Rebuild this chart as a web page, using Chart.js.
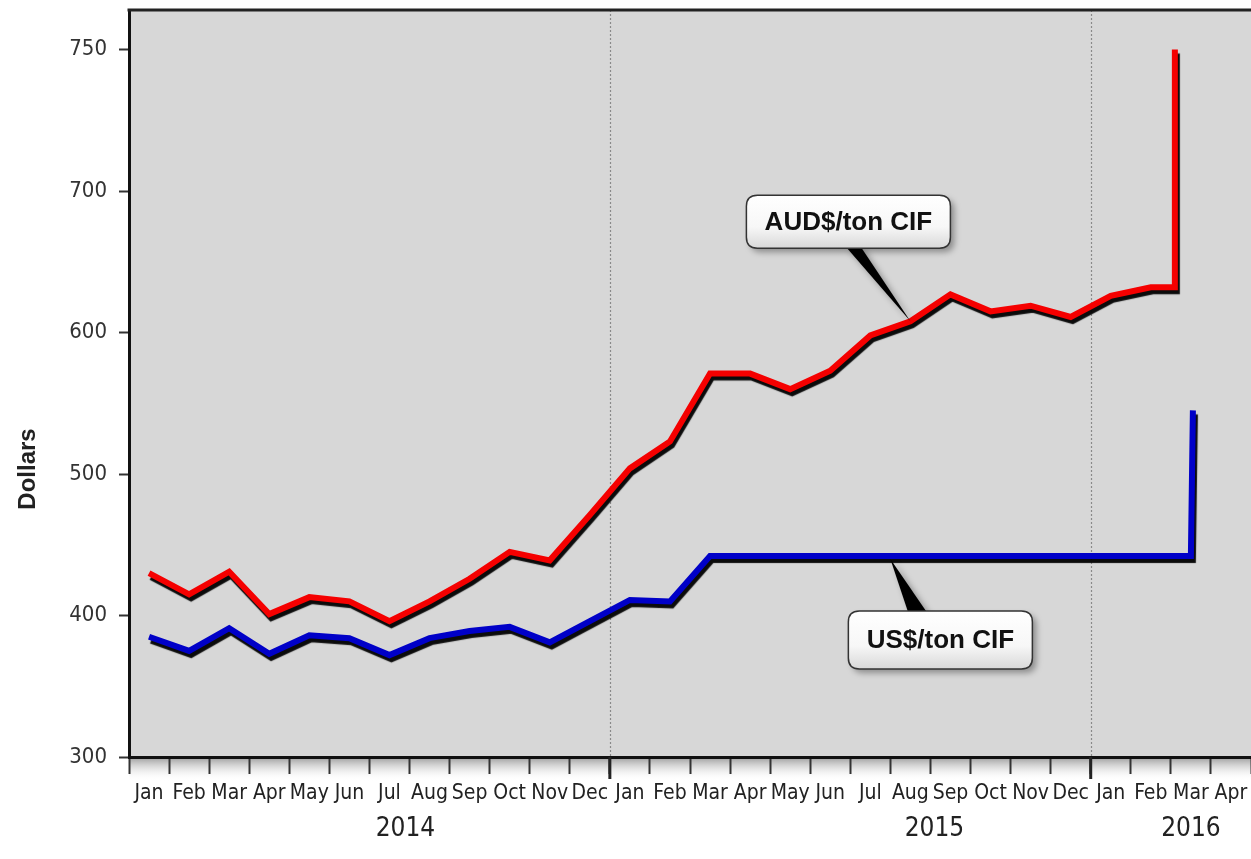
<!DOCTYPE html>
<html>
<head>
<meta charset="utf-8">
<script src="https://cdn.jsdelivr.net/npm/chart.js@4.4.0/dist/chart.umd.min.js"></script>
<style>
  html, body { margin: 0; padding: 0; background: #fff; }
  #wrap { width: 1251px; height: 859px; }
</style>
</head>
<body>
<div id="wrap"><canvas id="priceChart"></canvas></div>
<script>
// Monthly prices, Jan 2014 .. Apr 2016
const months = ['Jan','Feb','Mar','Apr','May','Jun','Jul','Aug','Sep','Oct','Nov','Dec',
                'Jan','Feb','Mar','Apr','May','Jun','Jul','Aug','Sep','Oct','Nov','Dec',
                'Jan','Feb','Mar','Apr'];
const years = ['2014', '2015', '2016'];

// AUD$/ton CIF, Jan 2014 .. Feb 2016
const audPerTon = [430, 415, 431, 401, 413, 410, 396, 410, 426, 445, 439, 471,
                   504, 523, 571, 571, 560, 573, 598, 608, 627, 615, 619, 611,
                   626, 632];
// last jump, at the start of Mar 2016 (top is shown against the "750" tick)
const audJump = [632, 800];

// US$/ton CIF, Jan 2014 .. Mar 2016
const usPerTon = [385, 375, 391, 373, 386, 384, 372, 384, 389, 392, 381, 396,
                  411, 410, 442, 442, 442, 442, 442, 442, 442, 442, 442, 442,
                  442, 442, 442];
const usJump = 545;

const yTickValues = [300, 400, 500, 600, 700, 800];
const yTickLabels = ['300', '400', '500', '600', '700', '750'];

const narrow = "'Liberation Sans Narrow', 'DejaVu Sans Condensed', 'Roboto Condensed', sans-serif";
const bold = "'Liberation Sans', Arial, sans-serif";

const audPoints = audPerTon.map((v, i) => ({ x: i + 0.5, y: v }))
  .concat([{ x: audPerTon.length + 0.1, y: audJump[0] }, { x: audPerTon.length + 0.1, y: audJump[1] }]);
const usPoints = usPerTon.map((v, i) => ({ x: i + 0.5, y: v }))
  .concat([{ x: usPerTon.length - 0.45, y: usJump }]);

// black drop shadow under the two price lines
const lineShadow = {
  id: 'lineShadow',
  beforeDatasetDraw(chart) {
    const c = chart.ctx;
    c.save();
    c.shadowColor = 'rgba(0,0,0,0.95)';
    c.shadowOffsetX = 2;
    c.shadowOffsetY = 4;
    c.shadowBlur = 1;
  },
  afterDatasetDraw(chart) {
    chart.ctx.restore();
  }
};

// grey plot area, shading under the axis, dashed year separators, texts
const frame = {
  id: 'frame',
  beforeDraw(chart) {
    const { ctx, chartArea: a } = chart;
    ctx.save();
    ctx.fillStyle = '#fff';
    ctx.fillRect(0, 0, chart.width, chart.height);
    ctx.fillStyle = '#d7d7d7';
    ctx.fillRect(a.left, a.top, a.right - a.left, a.bottom - a.top);
    const g = ctx.createLinearGradient(0, a.bottom, 0, a.bottom + 24);
    g.addColorStop(0, 'rgba(120,120,120,0.75)');
    g.addColorStop(1, 'rgba(255,255,255,0)');
    ctx.fillStyle = g;
    ctx.fillRect(a.left, a.bottom, a.right - a.left, 24);
    ctx.restore();
  },
  beforeDatasetsDraw(chart) {
    const { ctx, chartArea: a } = chart;
    const x = chart.scales.x;
    ctx.save();
    ctx.strokeStyle = '#8a8a8a';
    ctx.lineWidth = 1.2;
    ctx.setLineDash([2, 2]);
    [12, 24].forEach(m => {
      const px = Math.round(x.getPixelForValue(m)) + 0.5;
      ctx.beginPath();
      ctx.moveTo(px, a.top);
      ctx.lineTo(px, a.bottom);
      ctx.stroke();
    });
    ctx.restore();
  },
  afterDraw(chart) {
    const { ctx, chartArea: a } = chart;
    const x = chart.scales.x;
    ctx.save();
    // top border
    ctx.strokeStyle = '#222';
    ctx.lineWidth = 3;
    ctx.beginPath();
    ctx.moveTo(a.left - 1.5, a.top);
    ctx.lineTo(a.right, a.top);
    ctx.stroke();
    // longer ticks at the year boundaries
    [12, 24].forEach(m => {
      const px = x.getPixelForValue(m);
      ctx.beginPath();
      ctx.moveTo(px, a.bottom);
      ctx.lineTo(px, a.bottom + 22);
      ctx.stroke();
    });
    // year labels
    ctx.fillStyle = '#222';
    ctx.font = '26px ' + narrow;
    ctx.textAlign = 'center';
    ctx.textBaseline = 'middle';
    const yearAt = [6.9, 20.1, 26.5];
    years.forEach((t, i) => ctx.fillText(t, x.getPixelForValue(yearAt[i]), a.bottom + 72));
    // axis title
    ctx.translate(28, 469);
    ctx.rotate(-Math.PI / 2);
    ctx.font = 'bold 24px ' + bold;
    ctx.fillText('Dollars', 0, 0);
    ctx.restore();

    // callouts
    const y = chart.scales.y;
    drawCallout(ctx, 'AUD$/ton CIF',
      { x: x.getPixelForValue(19.5), y: y.getPixelForValue(audPerTon[19]) },
      { dx: -164, dy: -126, w: 204, h: 53, b0: -65, b1: -50 });
    drawCallout(ctx, 'US$/ton CIF',
      { x: x.getPixelForValue(19), y: y.getPixelForValue(usPerTon[19]) + 3 },
      { dx: -42, dy: 52, w: 184, h: 58, b0: 18, b1: 37 });
  }
};

function roundRect(ctx, x, y, w, h, r) {
  ctx.beginPath();
  ctx.moveTo(x + r, y);
  ctx.lineTo(x + w - r, y);
  ctx.quadraticCurveTo(x + w, y, x + w, y + r);
  ctx.lineTo(x + w, y + h - r);
  ctx.quadraticCurveTo(x + w, y + h, x + w - r, y + h);
  ctx.lineTo(x + r, y + h);
  ctx.quadraticCurveTo(x, y + h, x, y + h - r);
  ctx.lineTo(x, y + r);
  ctx.quadraticCurveTo(x, y, x + r, y);
  ctx.closePath();
}

function drawCallout(ctx, text, tip, o) {
  const bx = tip.x + o.dx, by = tip.y + o.dy;
  const baseY = o.dy < 0 ? by + o.h - 2 : by + 2;
  ctx.save();
  ctx.shadowColor = 'rgba(0,0,0,0.35)';
  ctx.shadowOffsetX = 4;
  ctx.shadowOffsetY = 4;
  ctx.shadowBlur = 6;
  // pointer
  ctx.fillStyle = '#000';
  ctx.beginPath();
  ctx.moveTo(tip.x + o.b0, baseY);
  ctx.lineTo(tip.x + o.b1, baseY);
  ctx.lineTo(tip.x, tip.y);
  ctx.closePath();
  ctx.fill();
  // box
  roundRect(ctx, bx, by, o.w, o.h, 11);
  const g = ctx.createLinearGradient(0, by, 0, by + o.h);
  g.addColorStop(0, '#ffffff');
  g.addColorStop(0.6, '#f7f7f7');
  g.addColorStop(1, '#d8d8d8');
  ctx.fillStyle = g;
  ctx.fill();
  ctx.shadowColor = 'transparent';
  ctx.strokeStyle = '#333';
  ctx.lineWidth = 1.5;
  ctx.stroke();
  ctx.fillStyle = '#111';
  ctx.font = 'bold 26px ' + bold;
  ctx.textAlign = 'center';
  ctx.textBaseline = 'middle';
  ctx.fillText(text, bx + o.w / 2, by + o.h / 2 + 1);
  ctx.restore();
}

const chart = new Chart(document.getElementById('priceChart'), {
  type: 'line',
  data: {
    datasets: [
      {
        label: 'AUD$/ton CIF',
        data: audPoints,
        borderColor: '#f50000',
        borderWidth: 6,
        pointRadius: 0,
        tension: 0,
        borderJoinStyle: 'miter',
        borderCapStyle: 'butt'
      },
      {
        label: 'US$/ton CIF',
        data: usPoints,
        borderColor: '#0000c8',
        borderWidth: 6,
        pointRadius: 0,
        tension: 0,
        borderJoinStyle: 'miter',
        borderCapStyle: 'butt'
      }
    ]
  },
  options: {
    responsive: true,
    maintainAspectRatio: false,
    animation: false,
    layout: { padding: { top: 10, left: 0, right: 0, bottom: 0 } },
    plugins: {
      legend: { display: false },
      tooltip: { enabled: false }
    },
    scales: {
      x: {
        type: 'linear',
        position: 'bottom',
        weight: 0,
        min: 0,
        max: months.length,
        afterBuildTicks: s => { s.ticks = months.map((m, i) => ({ value: i })).concat([{ value: months.length }]); },
        ticks: { display: false, autoSkip: false },
        grid: { drawOnChartArea: false, drawTicks: true, tickLength: 17, tickColor: '#333', tickWidth: 2 },
        border: { color: '#111', width: 3 },
        afterFit: s => { s.height = 18; s.paddingLeft = 0; s.paddingRight = 0; }
      },
      months: {
        type: 'category',
        labels: months,
        position: 'bottom',
        weight: 1,
        offset: true,
        grid: { display: false, drawTicks: false },
        border: { display: false },
        ticks: {
          autoSkip: false,
          maxRotation: 0,
          padding: 6,
          color: '#222',
          font: { family: narrow, size: 21 }
        },
        afterFit: s => { s.height = 84; s.paddingLeft = 0; s.paddingRight = 0; }
      },
      y: {
        type: 'linear',
        min: 300,
        max: 828,
        afterBuildTicks: s => { s.ticks = yTickValues.map(v => ({ value: v })); },
        ticks: {
          color: '#333',
          padding: 12,
          font: { family: narrow, size: 22 },
          callback: (v, i) => yTickLabels[i]
        },
        grid: { drawOnChartArea: false, tickLength: 10, tickColor: '#333', tickWidth: 2 },
        border: { color: '#111', width: 3 },
        afterFit: s => { s.width = 129; s.paddingTop = 0; s.paddingBottom = 0; }
      }
    }
  },
  plugins: [frame, lineShadow]
});
</script>
</body>
</html>
